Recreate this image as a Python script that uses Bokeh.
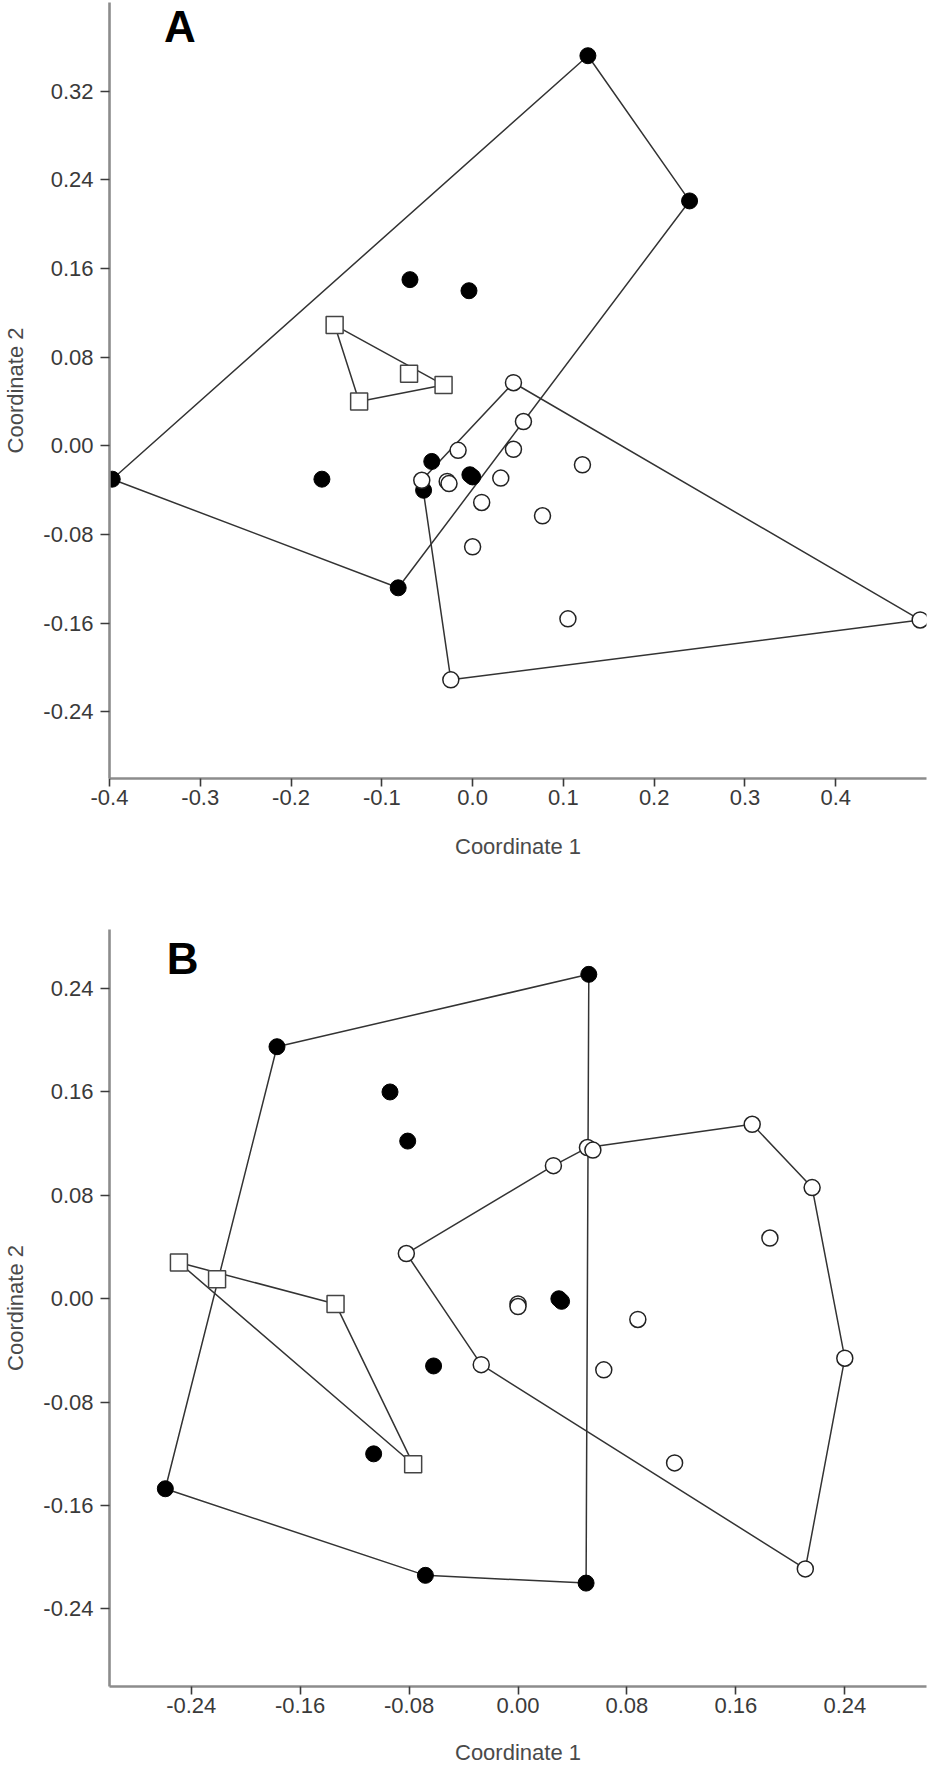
from bokeh.plotting import figure
from bokeh.models import FixedTicker, Label, Range1d
from bokeh.layouts import column
from bokeh.embed import file_html
from bokeh.resources import INLINE

FONT = "Liberation Sans"

# ---------------- Panel A data ----------------
a_x_ticks = [-0.4, -0.3, -0.2, -0.1, 0.0, 0.1, 0.2, 0.3, 0.4]
a_x_labels = ["-0.4", "-0.3", "-0.2", "-0.1", "0.0", "0.1", "0.2", "0.3", "0.4"]
a_y_ticks = [-0.24, -0.16, -0.08, 0.0, 0.08, 0.16, 0.24, 0.32]
a_y_labels = ["-0.24", "-0.16", "-0.08", "0.00", "0.08", "0.16", "0.24", "0.32"]

a_filled_x = [0.127, 0.239, -0.069, -0.004, -0.397, -0.166, -0.045, -0.003, 0.000, -0.054, -0.082]
a_filled_y = [0.352, 0.221, 0.150, 0.140, -0.030, -0.030, -0.014, -0.026, -0.028, -0.040, -0.128]
a_open_x = [0.045, 0.056, -0.016, 0.045, 0.121, -0.056, -0.028, -0.026, 0.031, 0.010, 0.077, 0.000, 0.105, 0.493, -0.024]
a_open_y = [0.057, 0.022, -0.004, -0.003, -0.017, -0.031, -0.032, -0.034, -0.029, -0.051, -0.063, -0.091, -0.156, -0.157, -0.211]
a_square_x = [-0.152, -0.070, -0.032, -0.125]
a_square_y = [0.109, 0.065, 0.055, 0.040]

# ---------------- Panel B data ----------------
b_x_ticks = [-0.24, -0.16, -0.08, 0.0, 0.08, 0.16, 0.24]
b_x_labels = ["-0.24", "-0.16", "-0.08", "0.00", "0.08", "0.16", "0.24"]
b_y_ticks = [-0.24, -0.16, -0.08, 0.0, 0.08, 0.16, 0.24]
b_y_labels = ["-0.24", "-0.16", "-0.08", "0.00", "0.08", "0.16", "0.24"]

b_filled_x = [0.052, -0.177, -0.094, -0.081, 0.030, 0.032, -0.062, -0.106, -0.259, -0.068, 0.050]
b_filled_y = [0.251, 0.195, 0.160, 0.122, 0.000, -0.002, -0.052, -0.120, -0.147, -0.214, -0.220]
b_open_x = [0.172, 0.216, 0.185, 0.240, 0.211, 0.115, 0.063, 0.088, 0.000, 0.000, -0.027, -0.082, 0.026, 0.051, 0.055]
b_open_y = [0.135, 0.086, 0.047, -0.046, -0.209, -0.127, -0.055, -0.016, -0.004, -0.006, -0.051, 0.035, 0.103, 0.117, 0.115]
b_square_x = [-0.249, -0.221, -0.134, -0.077]
b_square_y = [0.028, 0.015, -0.004, -0.128]

x_title = "Coordinate 1"
y_title = "Coordinate 2"


def convex_hull(xs, ys):
    pts = sorted(set(zip(xs, ys)))

    def cross(o, a, b):
        return (a[0] - o[0]) * (b[1] - o[1]) - (a[1] - o[1]) * (b[0] - o[0])

    lower = []
    for pt in pts:
        while len(lower) >= 2 and cross(lower[-2], lower[-1], pt) <= 0:
            lower.pop()
        lower.append(pt)
    upper = []
    for pt in reversed(pts):
        while len(upper) >= 2 and cross(upper[-2], upper[-1], pt) <= 0:
            upper.pop()
        upper.append(pt)
    h = lower[:-1] + upper[:-1]
    h.append(h[0])
    return [q[0] for q in h], [q[1] for q in h]


def make_panel(xr, yr, fw, fh, bl, bt, br, bb, xt, xl, yt, yl, groups, letter, lx, ly, title_standoff):
    p = figure(x_range=Range1d(*xr), y_range=Range1d(*yr),
               frame_width=fw, frame_height=fh,
               min_border_left=bl, min_border_top=bt, min_border_right=br, min_border_bottom=bb,
               output_backend="svg", toolbar_location=None,
               outline_line_color=None, background_fill_color="white",
               border_fill_color="white")
    p.grid.visible = False

    for ax in (p.xaxis[0], p.yaxis[0]):
        ax.axis_line_color = "#8c8c8c"
        ax.axis_line_width = 2.6
        ax.major_tick_line_color = "#3a3a3a"
        ax.major_tick_line_width = 1.6
        ax.major_tick_in = 0
        ax.minor_tick_out = 0
        ax.minor_tick_in = 0
        ax.major_label_text_font = FONT
        ax.major_label_text_font_size = "22px"
        ax.major_label_text_color = "#3a3a3a"
        ax.axis_label_text_font = FONT
        ax.axis_label_text_font_size = "22px"
        ax.axis_label_text_font_style = "normal"
        ax.axis_label_text_color = "#4a4a4a"

    xa = p.xaxis[0]
    xa.ticker = FixedTicker(ticks=xt)
    xa.major_label_overrides = {t: s for t, s in zip(xt, xl)}
    xa.major_tick_out = 8
    xa.major_label_standoff = 3
    xa.axis_label = x_title
    xa.axis_label_standoff = title_standoff

    ya = p.yaxis[0]
    ya.ticker = FixedTicker(ticks=yt)
    ya.major_label_overrides = {t: s for t, s in zip(yt, yl)}
    ya.major_tick_out = 9
    ya.major_label_standoff = 7
    ya.axis_label = y_title
    ya.axis_label_standoff = 12

    (fx, fy), (ox, oy), (sx, sy) = groups
    for gx, gy in ((fx, fy), (ox, oy), (sx, sy)):
        hx, hy = convex_hull(gx, gy)
        p.line(hx, hy, line_color="#333333", line_width=1.5)

    p.scatter(fx, fy, marker="circle", size=16, fill_color="black", line_color="black")
    p.scatter(ox, oy, marker="circle", size=16, fill_color="white", line_color="#222222", line_width=1.5)
    p.scatter(sx, sy, marker="square", size=17, fill_color="white", line_color="#444444", line_width=1.5)

    p.add_layout(Label(x=lx, y=ly, text=letter, text_font=FONT, text_font_size="44px",
                       text_font_style="bold", text_color="black", text_baseline="alphabetic"))
    return p


pA = make_panel((-0.4, 0.5), (-0.30, 0.40), 817, 776, 106, 2, 6, 122,
                a_x_ticks, a_x_labels, a_y_ticks, a_y_labels,
                ((a_filled_x, a_filled_y), (a_open_x, a_open_y), (a_square_x, a_square_y)),
                "A", -0.340, 0.378, 26)

pB = make_panel((-0.30, 0.30), (-0.30, 0.2857), 817, 757, 106, 29, 6, 79,
                b_x_ticks, b_x_labels, b_y_ticks, b_y_labels,
                ((b_filled_x, b_filled_y), (b_open_x, b_open_y), (b_square_x, b_square_y)),
                "B", -0.258, 0.263, 24)

layout = column(pA, pB, spacing=0)
open("out.html", "w").write(file_html(layout, INLINE))
